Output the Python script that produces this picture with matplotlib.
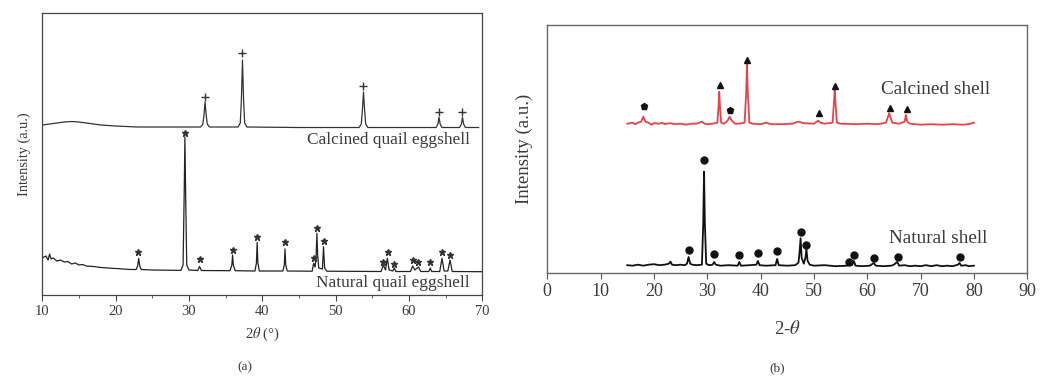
import numpy as np
import matplotlib
matplotlib.use("Agg")
import matplotlib.pyplot as plt
from matplotlib.ticker import MultipleLocator

plt.rcParams['font.family'] = ['Liberation Serif', 'DejaVu Serif']
plt.rcParams['mathtext.fontset'] = 'stix'

# (a) XRD of quail eggshell, intensity in arbitrary units
calc_a_x = [10, 11, 12, 13, 14, 15, 16, 17, 18, 20, 23, 27, 31.6, 31.9, 32.05, 32.2, 32.35, 32.5, 32.8,
            36.7, 37.0, 37.15, 37.3, 37.45, 37.6, 37.9, 45, 53.2, 53.5, 53.65, 53.8, 53.95, 54.1, 54.4,
            63.7, 63.95, 64.1, 64.25, 64.5, 66.9, 67.15, 67.3, 67.45, 67.7, 69.5]
calc_a_y = [170, 171, 172, 173, 173.5, 173, 172, 171, 170, 169, 168, 168, 168, 171, 180, 193, 180, 171, 168,
            168, 172, 195, 235, 195, 172, 168, 167.5, 167.5, 171, 185, 203, 185, 171, 167.5,
            167.5, 171, 177.7, 171, 167.5, 167.5, 171, 177.7, 171, 167.5, 167.5]

nat_a_x = [10, 10.5, 10.8, 11.0, 11.2, 11.5, 12, 12.5, 13, 13.5, 14, 14.5, 15, 15.5, 16, 17, 18, 19, 20, 21, 22,
           22.8, 23.0, 23.15, 23.3, 23.5, 25, 27, 28.9, 29.2, 29.35, 29.45, 29.55, 29.7, 30.0,
           31.2, 31.45, 31.7, 35.6, 35.85, 35.95, 36.05, 36.3, 39.0, 39.2, 39.3, 39.4, 39.6,
           42.8, 43.0, 43.1, 43.2, 43.4, 46.8, 47.0, 47.2, 47.35, 47.45, 47.55, 47.7, 48.2, 48.35, 48.5, 48.8,
           56.2, 56.5, 56.8, 57.05, 57.3, 57.8, 58.0, 58.2, 60.2, 60.5, 60.8, 61.3, 61.6, 62.7, 62.9, 63.1,
           64.2, 64.5, 64.8, 65.3, 65.6, 65.9, 70]
nat_a_y = [37, 39, 35, 41, 36, 37, 34, 35, 33, 33.5, 31, 32, 30, 30.5, 29, 28.5, 27.5, 27, 26.5, 26, 25.5,
           25.5, 29, 36.5, 29, 25.5, 25, 24.8, 24.6, 30, 100, 158, 100, 30, 25,
           24.5, 28.5, 24.5, 24.3, 30, 40, 30, 24.3, 24, 32, 52.7, 32, 24,
           24, 30, 46, 30, 24, 23.8, 31.7, 28, 40, 61.7, 40, 27, 26, 48.3, 27, 23.8,
           23.5, 30, 25, 36.7, 25, 24, 27, 23.5, 23.5, 29, 25, 28, 23.5, 23.5, 27, 23.5,
           23.5, 36.7, 24, 24, 35, 23.5, 23.3]

plus_x = [32.2, 37.3, 53.8, 64.1, 67.3]
plus_y = [198.3, 241.7, 209, 183.3, 183.3]
star_x = [23.1, 29.4, 31.45, 35.95, 39.3, 43.1, 47.0, 47.45, 48.4, 56.5, 57.1, 58.0, 60.5, 61.3, 62.9, 64.5, 65.6]
star_y = [42.7, 162.3, 36, 45, 57.7, 52.7, 36.7, 66.7, 54.3, 32.7, 43.3, 30.7, 35, 33.3, 32.7, 43.3, 40]

# (b) XRD of calcined and natural shell
calc_b_x = [15, 16, 16.5, 17, 17.6, 18.0, 18.4, 19, 19.5, 20, 21, 21.5, 22, 23, 24, 25, 26, 27, 28, 29, 29.5,
            30, 31, 31.9, 32.1, 32.25, 32.4, 32.6, 33.2, 33.8, 34.2, 34.6, 35.2, 36, 37.0, 37.3, 37.45,
            37.6, 37.9, 38.5, 40, 41, 42, 44, 46, 47, 47.5, 48, 50, 50.8, 51.2, 52, 53.5, 53.75, 53.9,
            54.05, 54.3, 55, 58, 60, 62, 63.5, 63.9, 64.1, 64.3, 64.7, 66, 67.0, 67.25, 67.5, 68, 70,
            72, 74, 76, 78, 79, 80]
calc_b_y = [149, 150, 148.5, 150, 151, 156, 151, 150, 148, 149.5, 149, 150, 148.5, 149.5, 148.5, 149, 148, 149, 149, 151, 149,
            148.5, 149, 150, 165, 181, 165, 150, 149, 152, 156, 152, 149, 149, 150, 180, 208,
            180, 150, 149, 148.5, 150, 148.5, 148.5, 149, 151, 150.5, 149.5, 149, 152, 150, 149, 150, 170, 183,
            170, 150, 149, 148.5, 149, 148.5, 150, 156, 159.5, 156, 150, 149, 151, 157.7, 151, 149, 148,
            148.5, 148, 148.5, 148, 148.5, 150]

nat_b_x = [15, 16, 17, 18, 19, 20, 21, 22, 22.8, 23.1, 23.4, 24, 25, 25.8, 26.2, 26.5, 26.8, 27.2, 28,
           29.0, 29.25, 29.4, 29.55, 29.8, 30.3, 31.0, 31.3, 31.6, 32.5, 34, 35.7, 36.0, 36.3, 38,
           39.2, 39.5, 39.8, 41, 42.8, 43.1, 43.4, 45, 46.5, 47.1, 47.3, 47.5, 47.7, 48.1, 48.4, 48.6,
           48.8, 49.2, 50, 52, 54, 56.3, 56.6, 56.9, 57.2, 57.5, 57.8, 59, 60.5, 61.2, 61.6, 63, 64.5,
           65.0, 65.6, 66.0, 67, 68, 69, 70, 71, 72, 73, 74, 75, 76, 77.0, 77.3, 77.6, 78.5, 79, 80]
nat_b_y = [7.5, 7, 8, 7, 8, 8.5, 7.5, 8, 9, 11, 8, 7.5, 8, 7.5, 9, 15.7, 9, 8, 7.5,
           8, 50, 101, 50, 9, 7.5, 8, 10.7, 8, 7, 7.5, 7, 10.7, 7, 7.5,
           8, 11.7, 7.5, 7, 7.5, 13.7, 7.5, 7, 7.5, 10, 20, 34.4, 15, 9, 15, 23.7,
           12, 8, 7, 7.5, 6.5, 7, 9, 7.5, 8, 11.7, 7, 6.5, 7, 9.7, 7, 6.5, 7,
           8, 10.7, 7, 7.5, 6.5, 7, 6.5, 7.5, 6.5, 7.5, 6.5, 7, 6.5, 8, 9.7, 7, 7.5, 6.5, 7]

pent_x = [18.1, 34.3]
pent_y = [167, 163]
tri_x = [32.3, 37.5, 50.9, 54.0, 64.2, 67.4]
tri_y = [188, 213, 160, 187, 165, 164]
dot_x = [26.6, 29.4, 31.3, 36.0, 39.5, 43.0, 47.5, 48.6, 56.6, 57.6, 61.3, 65.7, 77.4]
dot_y = [22.7, 112.7, 18.7, 17.7, 19.7, 22, 40.4, 27.7, 11, 17.7, 14.4, 16, 15.4]

txt = '#3a3a3a'
fig = plt.figure(figsize=(10.41, 3.77), dpi=100)

# ---- panel (a)
ax0 = fig.add_axes([0.0406, 0.2175, 0.4227, 0.748])
ax0.plot(calc_a_x, calc_a_y, color='#333333', lw=0.9)
ax0.plot(nat_a_x, nat_a_y, color='#222222', lw=0.9)
ax0.plot(plus_x, plus_y, '+', color='#333333', ms=6, mew=1)
ax0.plot(star_x, star_y, '*', color='#333333', ms=5)
ax0.text(68.3, 155, 'Calcined quail eggshell', ha='right', va='center', fontsize=12.4, color=txt)
ax0.text(68.3, 11.7, 'Natural quail eggshell', ha='right', va='center', fontsize=12.4, color=txt)
ax0.set_xlim(10, 70)
ax0.set_ylim(0, 282)
ax0.set_yticks([])
ax0.xaxis.set_major_locator(MultipleLocator(10))
ax0.xaxis.set_minor_locator(MultipleLocator(5))
ax0.tick_params(axis='x', which='major', direction='out', length=4, labelsize=10.5, labelcolor=txt, color='#444444')
ax0.tick_params(axis='x', which='minor', direction='out', length=2.5, color='#444444')
ax0.set_xlabel(r'2$\theta$ (°)', fontsize=10.5, color=txt, labelpad=5)
ax0.set_ylabel('Intensity (a.u.)', fontsize=10.3, color=txt, labelpad=8)
for sp in ax0.spines.values():
    sp.set_color('#444444')
    sp.set_linewidth(0.9)

# ---- panel (b)
ax1 = fig.add_axes([0.5257, 0.2767, 0.4611, 0.657])
ax1.plot(calc_b_x, calc_b_y, color='#e8434b', lw=1.3)
ax1.plot(nat_b_x, nat_b_y, color='#111111', lw=1.3)
ax1.plot(pent_x, pent_y, 'p', color='#111111', ms=4.5)
ax1.plot(tri_x, tri_y, '^', color='#111111', ms=4.5)
ax1.plot(dot_x, dot_y, 'o', color='#111111', ms=5)
ax1.text(83.0, 182.7, 'Calcined shell', ha='right', va='center', fontsize=13.9, color=txt)
ax1.text(82.5, 34.4, 'Natural shell', ha='right', va='center', fontsize=13.9, color=txt)
ax1.set_xlim(0, 90)
ax1.set_ylim(0, 247.7)
ax1.set_yticks([])
ax1.xaxis.set_major_locator(MultipleLocator(10))
ax1.tick_params(axis='x', direction='out', length=4, labelsize=13, labelcolor=txt, color='#555555')
ax1.set_xlabel(r'2-$\theta$', fontsize=13.5, color=txt, labelpad=14)
ax1.set_ylabel('Intensity (a.u.)', fontsize=13.5, color=txt, labelpad=10)
for sp in ax1.spines.values():
    sp.set_color('#666666')
    sp.set_linewidth(1.0)

fig.text(0.2354, 0.026, '(a)', ha='center', va='center', fontsize=9.5, color=txt)
fig.text(0.7464, 0.024, '(b)', ha='center', va='center', fontsize=9.5, color=txt)

fig.savefig('out.png', dpi=100)
